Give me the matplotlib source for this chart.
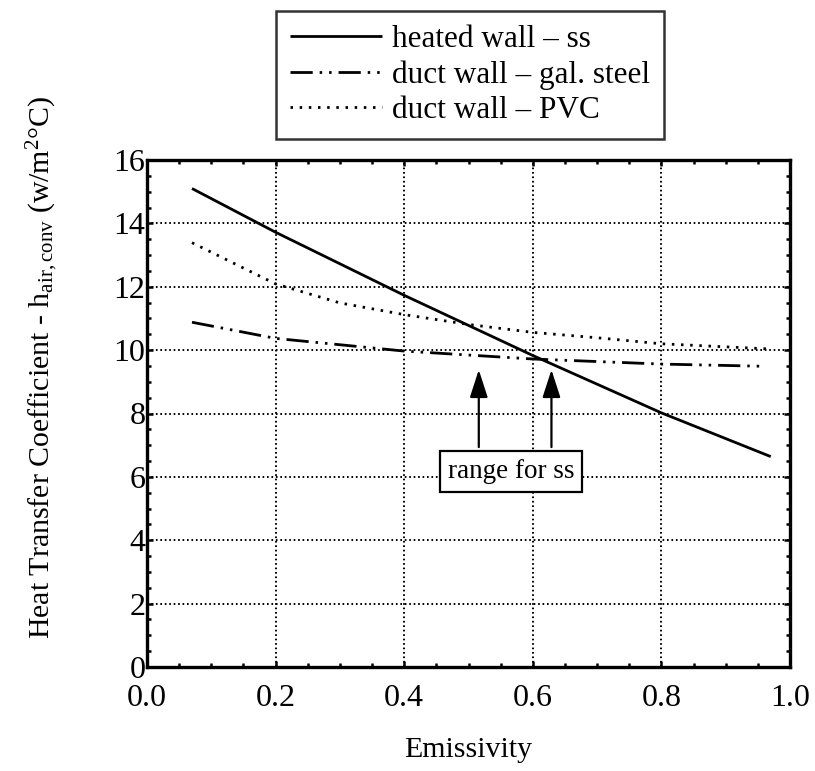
import matplotlib
matplotlib.use("Agg")
import matplotlib.pyplot as plt
from matplotlib.ticker import MultipleLocator

plt.rcParams["font.family"] = ["Liberation Serif", "DejaVu Serif"]
plt.rcParams["mathtext.fontset"] = "custom"
plt.rcParams["mathtext.rm"] = "Liberation Serif"
plt.rcParams["mathtext.it"] = "Liberation Serif:italic"
plt.rcParams["lines.scale_dashes"] = False

# Emissivity vs. convective heat transfer coefficient
heated_x = [0.07, 0.2, 0.4, 0.6, 0.8, 0.97]
heated_y = [15.1, 13.72, 11.73, 9.83, 8.02, 6.64]

steel_x = [0.07, 0.2, 0.4, 0.6, 0.8, 0.96]
steel_y = [10.88, 10.37, 9.97, 9.72, 9.56, 9.49]

pvc_x = [0.07, 0.2, 0.3, 0.4, 0.5, 0.6, 0.7, 0.8, 0.965]
pvc_y = [13.39, 12.09, 11.49, 11.12, 10.81, 10.56, 10.39, 10.2, 10.04]

series_labels = ["heated wall \u2013 ss", "duct wall \u2013 gal. steel", "duct wall \u2013 PVC"]

x_ticks = [0.0, 0.2, 0.4, 0.6, 0.8, 1.0]
x_ticklabels = ["0.0", "0.2", "0.4", "0.6", "0.8", "1.0"]
y_ticks = [0, 2, 4, 6, 8, 10, 12, 14, 16]

# "range for ss" markers
range_x = [0.516, 0.629]
range_tip = 9.38
range_tail = 6.94

fig = plt.figure(figsize=(8.15, 7.71), dpi=100)
ax = fig.add_axes([147 / 815, 1 - 667 / 771, 643 / 815, 507 / 771])

l1, = ax.plot(heated_x, heated_y, color="black", lw=2.0, solid_capstyle="butt")
l2, = ax.plot(steel_x, steel_y, color="black", lw=2.0,
              dashes=(16, 5, 1.8, 5, 1.8, 5))
l3, = ax.plot(pvc_x, pvc_y, color="black", lw=2.0, dashes=(1.8, 4.8))

ax.set_xlim(0, 1.0)
ax.set_ylim(0, 16)
ax.set_xticks(x_ticks)
ax.set_xticklabels(x_ticklabels)
ax.set_yticks(y_ticks)
ax.xaxis.set_minor_locator(MultipleLocator(0.05))
ax.yaxis.set_minor_locator(MultipleLocator(0.5))
ax.tick_params(which="both", direction="in", top=True, right=True,
               width=1.8, labelsize=23)
ax.tick_params(which="major", length=4)
ax.tick_params(which="minor", length=3)
ax.tick_params(axis="y", pad=1)
ax.tick_params(axis="x", pad=12)
for s in ax.spines.values():
    s.set_linewidth(2.4)

ax.grid(True, which="major", color="black", lw=1.4, linestyle=(0, (1.2, 2.0)))

for xv in range_x:
    ax.annotate("", xy=(xv, range_tip), xytext=(xv, range_tail),
                arrowprops=dict(arrowstyle="-|>,head_length=1.7,head_width=0.55",
                                color="black", lw=1.6, shrinkA=0, shrinkB=0))
ax.text(0.566, 6.17, "range for ss", fontsize=19.5, ha="center", va="center",
        bbox=dict(boxstyle="square,pad=0.3", fc="white", ec="black", lw=1.6),
        zorder=5)

ax.set_xlabel("Emissivity", fontsize=21.5)
ax.xaxis.set_label_coords(468 / 815, 1 - 737 / 771, transform=fig.transFigure)
ax.set_ylabel(r"Heat Transfer Coefficient - h$_{\mathrm{air,conv}}$ (w/m$^{2}$°C)",
              fontsize=21.5)
ax.yaxis.set_label_coords(43 / 815, 1 - 367 / 771, transform=fig.transFigure)
ax.yaxis.label.set_va("center")

leg = fig.legend([l1, l2, l3], series_labels, loc="upper center",
                 bbox_to_anchor=(470 / 815, 1 - 11 / 771), fontsize=22.5,
                 frameon=True, fancybox=False, handlelength=2.95,
                 handletextpad=0.33, labelspacing=0.2, borderpad=0.45,
                 borderaxespad=0)
leg.get_frame().set_edgecolor("black")
leg.get_frame().set_linewidth(1.8)

fig.savefig("out.png", dpi=100)
